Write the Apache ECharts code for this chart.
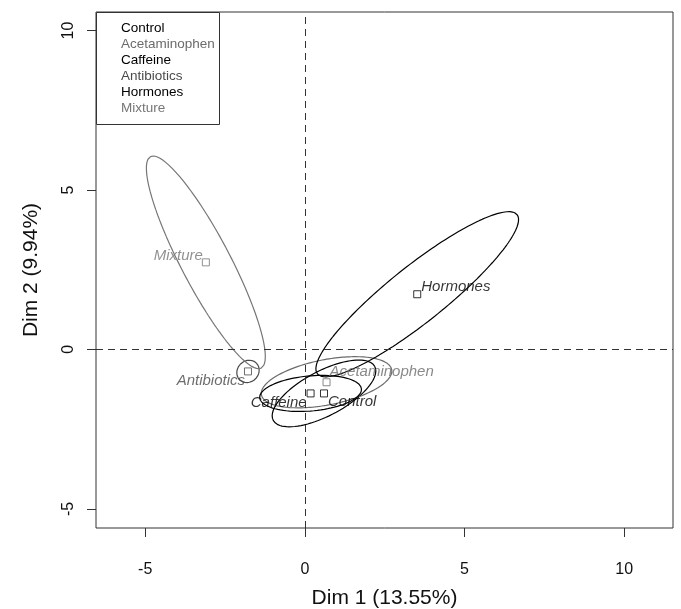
<!DOCTYPE html>
<html>
<head>
<meta charset="utf-8">
<script src="https://cdn.jsdelivr.net/npm/echarts@6/dist/echarts.min.js"></script>
<style>
  html, body { margin: 0; padding: 0; background: #fff; }
  #chart { width: 681px; height: 609px; }
</style>
</head>
<body>
<div id="chart"></div>
<script>
// Category coordinates on the first two dimensions
const categories = ['Control', 'Acetaminophen', 'Caffeine', 'Antibiotics', 'Hormones', 'Mixture'];
const dim1 = [0.60, 0.68, 0.18, -1.78, 3.52, -3.10];
const dim2 = [-1.38, -1.03, -1.38, -0.69, 1.73, 2.73];

// Confidence ellipse around each category: semi-axes and orientation (degrees)
const ellipseSemiMajor = [1.80, 2.08, 1.60, 0.37, 4.00, 3.74];
const ellipseSemiMinor = [0.70, 0.71, 0.55, 0.33, 0.88, 0.77];
const ellipseAngle = [28, 11, 5, 45, 38.6, 117.6];

// Axis tick values
const xTicks = [-5, 0, 5, 10];
const yTicks = [-5, 0, 5, 10];

// Appearance per category
const colors = {
  Control: '#000000',
  Acetaminophen: '#6b6b6b',
  Caffeine: '#000000',
  Antibiotics: '#4a4a4a',
  Hormones: '#000000',
  Mixture: '#767676'
};
const labelPlacement = {
  Control:       { align: 'left',  offset: [4, 8] },
  Acetaminophen: { align: 'left',  offset: [3, -10] },
  Caffeine:      { align: 'right', offset: [-4, 9] },
  Antibiotics:   { align: 'right', offset: [-3, 9] },
  Hormones:      { align: 'left',  offset: [4, -7] },
  Mixture:       { align: 'right', offset: [-3, -7] }
};

const FONT = '"Liberation Sans", Arial, Helvetica, sans-serif';

function ellipseOutline(i) {
  const cx = dim1[i], cy = dim2[i];
  const a = ellipseSemiMajor[i], b = ellipseSemiMinor[i];
  const th = ellipseAngle[i] * Math.PI / 180;
  const pts = [];
  const n = 180;
  for (let k = 0; k <= n; k++) {
    const t = 2 * Math.PI * k / n;
    const ex = a * Math.cos(t), ey = b * Math.sin(t);
    pts.push([cx + ex * Math.cos(th) - ey * Math.sin(th),
              cy + ex * Math.sin(th) + ey * Math.cos(th)]);
  }
  return pts;
}

const series = [];
categories.forEach((name, i) => {
  const col = colors[name];
  series.push({
    name: name + ' ellipse',
    type: 'line',
    data: ellipseOutline(i),
    showSymbol: false,
    smooth: false,
    silent: true,
    lineStyle: { color: col, width: 1.2 },
    z: 2
  });
  const lp = labelPlacement[name];
  series.push({
    name: name,
    type: 'scatter',
    data: [[dim1[i], dim2[i]]],
    symbol: 'rect',
    symbolSize: 7,
    itemStyle: { color: 'rgba(255,255,255,0)', borderColor: col, borderWidth: 1 },
    label: {
      show: true,
      position: 'inside',
      align: lp.align,
      verticalAlign: 'middle',
      offset: lp.offset,
      formatter: name,
      fontFamily: FONT,
      fontStyle: 'italic',
      fontSize: 15,
      color: col
    },
    z: 3
  });
});

// Reference lines through the origin
series.push({
  type: 'line',
  data: [],
  silent: true,
  markLine: {
    silent: true,
    symbol: 'none',
    label: { show: false },
    lineStyle: { color: '#333', width: 1, type: [7, 5] },
    data: [{ xAxis: 0 }, { yAxis: 0 }]
  }
});

// Legend box in the top-left corner of the plot
const legendItems = categories.map((name, i) => ({
  type: 'text',
  x: 121,
  y: 28 + 16 * i,
  style: {
    text: name,
    fill: colors[name],
    font: '13.5px ' + FONT,
    textVerticalAlign: 'middle',
    verticalAlign: 'middle'
  },
  z: 11
}));

const option = {
  animation: false,
  backgroundColor: '#fff',
  grid: {
    left: 96, right: 8, top: 12, bottom: 81,
    outerBoundsMode: 'none',
    containLabel: false,
    show: true, borderColor: '#333', borderWidth: 1, backgroundColor: 'transparent'
  },
  xAxis: {
    type: 'value',
    min: -6.54, max: 11.53,
    name: 'Dim 1 (13.55%)',
    nameLocation: 'middle',
    nameGap: 60,
    nameTextStyle: { fontFamily: FONT, fontSize: 21, color: '#111' },
    axisLine: { show: false, onZero: false },
    splitLine: { show: false },
    axisTick: { show: true, length: 9, customValues: xTicks, lineStyle: { color: '#333' } },
    axisLabel: { customValues: xTicks, margin: 34, fontFamily: FONT, fontSize: 16, color: '#111' }
  },
  yAxis: {
    type: 'value',
    min: -5.60, max: 10.58,
    name: 'Dim 2 (9.94%)',
    nameLocation: 'middle',
    nameGap: 54,
    nameRotate: 90,
    nameTextStyle: { fontFamily: FONT, fontSize: 21, color: '#111' },
    axisLine: { show: false, onZero: false },
    splitLine: { show: false },
    axisTick: { show: true, length: 9, customValues: yTicks, lineStyle: { color: '#333' } },
    axisLabel: { customValues: yTicks, rotate: 90, margin: 19, fontFamily: FONT, fontSize: 16, color: '#111' }
  },
  graphic: [
    {
      type: 'rect',
      shape: { x: 96.5, y: 12.5, width: 123, height: 112 },
      style: { fill: '#fff', stroke: '#333', lineWidth: 1 },
      z: 10
    }
  ].concat(legendItems),
  series: series
};

const chart = echarts.init(document.getElementById('chart'), null, { renderer: 'canvas' });
chart.setOption(option);
</script>
</body>
</html>
